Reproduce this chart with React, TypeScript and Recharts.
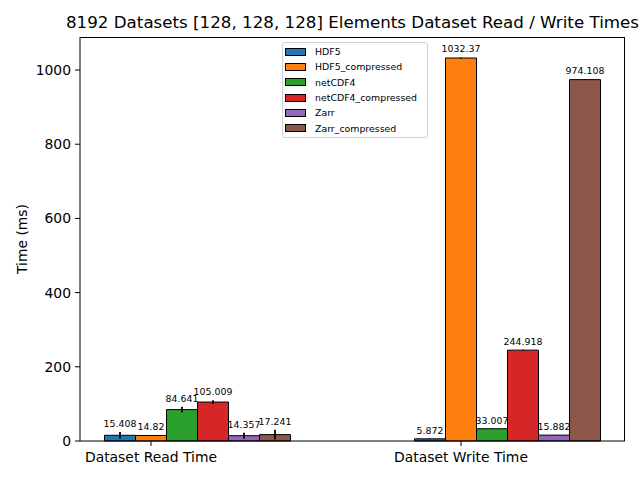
import { Bar, BarChart, ErrorBar, Label, LabelList, Legend, XAxis, YAxis } from "recharts";

const categories = ["Dataset Read Time", "Dataset Write Time"];
const seriesNames = ["HDF5", "HDF5_compressed", "netCDF4", "netCDF4_compressed", "Zarr", "Zarr_compressed"];
const seriesColors = ["#1f77b4", "#ff7f0e", "#2ca02c", "#d62728", "#9467bd", "#8c564b"];

// read, write (ms)
const hdf5 = [15.408, 5.872];
const hdf5Compressed = [14.82, 1032.37];
const netcdf4 = [84.641, 33.007];
const netcdf4Compressed = [105.009, 244.918];
const zarr = [14.357, 15.882];
const zarrCompressed = [17.241, 974.108];

// error bar half-lengths, estimated
const hdf5Err = [9, 0.3];
const hdf5CompressedErr = [1.5, 1.5];
const netcdf4Err = [8, 0.5];
const netcdf4CompressedErr = [5, 0.8];
const zarrErr = [8, 0.3];
const zarrCompressedErr = [13, 0.8];

const yTicks = [0, 200, 400, 600, 800, 1000];

const seriesValues = [hdf5, hdf5Compressed, netcdf4, netcdf4Compressed, zarr, zarrCompressed];
const seriesErrors = [hdf5Err, hdf5CompressedErr, netcdf4Err, netcdf4CompressedErr, zarrErr, zarrCompressedErr];

const data = categories.map((name, i) => {
  const row: Record<string, string | number> = { name };
  seriesNames.forEach((s, k) => {
    row[s] = seriesValues[k][i];
    row[s + "_err"] = seriesErrors[k][i];
  });
  return row;
});

const FONT = "DejaVu Sans, sans-serif";
const BAR = 31;

function makeLabel(errs: number[]) {
  return (props: any) => {
    const vb = props.viewBox ?? props;
    const value = Number(props.value);
    const h = Number(vb.height);
    const errPx = value ? (h * errs[props.index]) / value : 0;
    return (
      <text
        x={vb.x + vb.width / 2}
        y={vb.y - errPx - 5}
        textAnchor="middle"
        fontSize={9.4}
        fontFamily={FONT}
        fill="#000"
      >
        {String(props.value)}
      </text>
    );
  };
}

function XTick(props: any) {
  const shift = (1 - (seriesNames.length - 1) / 2) * BAR;
  const x = props.x + shift;
  return (
    <g>
      <line x1={x} x2={x} y1={props.y} y2={props.y + 5} stroke="#000" />
      <text x={x} y={props.y + 21} textAnchor="middle" fontSize={13.9} fontFamily={FONT} fill="#000">
        {props.payload.value}
      </text>
    </g>
  );
}

function LegendBox() {
  return (
    <div
      style={{
        width: 144,
        height: 93,
        border: "1px solid #d0d0d0",
        borderRadius: 3,
        background: "rgba(255,255,255,0.8)",
        fontFamily: FONT,
        fontSize: 9.4,
        paddingTop: 1,
        boxSizing: "content-box",
      }}
    >
      {seriesNames.map((name, i) => (
        <div key={name} style={{ height: 15.3, display: "flex", alignItems: "center" }}>
          <span
            style={{
              display: "inline-block",
              width: 19,
              height: 6,
              marginLeft: 2,
              marginRight: 9,
              background: seriesColors[i],
              border: "1px solid #000",
            }}
          />
          <span style={{ color: "#000" }}>{name}</span>
        </div>
      ))}
    </div>
  );
}

export default function App() {
  return (
    <div style={{ position: "absolute", left: 0, top: 0, width: 640, height: 480, background: "#fff" }}>
      <div
        style={{
          position: "absolute",
          left: 0,
          width: 705,
          top: 12,
          textAlign: "center",
          fontFamily: FONT,
          fontSize: 16.7,
          whiteSpace: "nowrap",
          color: "#000",
        }}
      >
        8192 Datasets [128, 128, 128] Elements Dataset Read / Write Times
      </div>
      <BarChart
        width={640}
        height={480}
        data={data}
        margin={{ top: 37, right: 15, bottom: 14, left: 0 }}
        barSize={BAR}
        barGap={0}
      >
        <XAxis
          dataKey="name"
          height={25}
          padding={{ left: -37.5, right: -37.5 }}
          axisLine={{ stroke: "#000" }}
          tickLine={false}
          tickSize={0}
          tickMargin={0}
          tick={<XTick />}
        />
        <YAxis
          width={80}
          domain={[0, 1089]}
          ticks={yTicks}
          interval={0}
          tickSize={5}
          tickMargin={4}
          axisLine={{ stroke: "#000" }}
          tickLine={{ stroke: "#000" }}
          tick={{ fill: "#000", fontSize: 13.9, fontFamily: FONT }}
        >
          <Label
            content={(p: any) => {
              const vb = p.viewBox;
              const cx = 22;
              const cy = vb.y + vb.height / 2;
              return (
                <text
                  x={cx}
                  y={cy}
                  transform={`rotate(-90 ${cx} ${cy})`}
                  textAnchor="middle"
                  dominantBaseline="central"
                  fontSize={13.9}
                  fontFamily={FONT}
                  fill="#000"
                >
                  Time (ms)
                </text>
              );
            }}
          />
        </YAxis>
        <Legend
          layout="horizontal"
          verticalAlign="middle"
          align="center"
          wrapperStyle={{ top: 42, left: 282, width: 146 }}
          content={<LegendBox />}
        />
        {seriesNames.map((s, k) => (
          <Bar key={s} dataKey={s} name={s} fill={seriesColors[k]} stroke="#000" strokeWidth={1} isAnimationActive={false}>
            <ErrorBar dataKey={s + "_err"} width={0} stroke="#000" strokeWidth={1.8} direction="y" />
            <LabelList dataKey={s} content={makeLabel(seriesErrors[k])} />
          </Bar>
        ))}
      </BarChart>
      {/* top and right spines of the axes box */}
      <div
        style={{
          position: "absolute",
          left: 80,
          top: 37,
          width: 545,
          height: 404,
          borderTop: "1px solid #000",
          borderRight: "1px solid #000",
          boxSizing: "border-box",
          pointerEvents: "none",
        }}
      />
    </div>
  );
}
